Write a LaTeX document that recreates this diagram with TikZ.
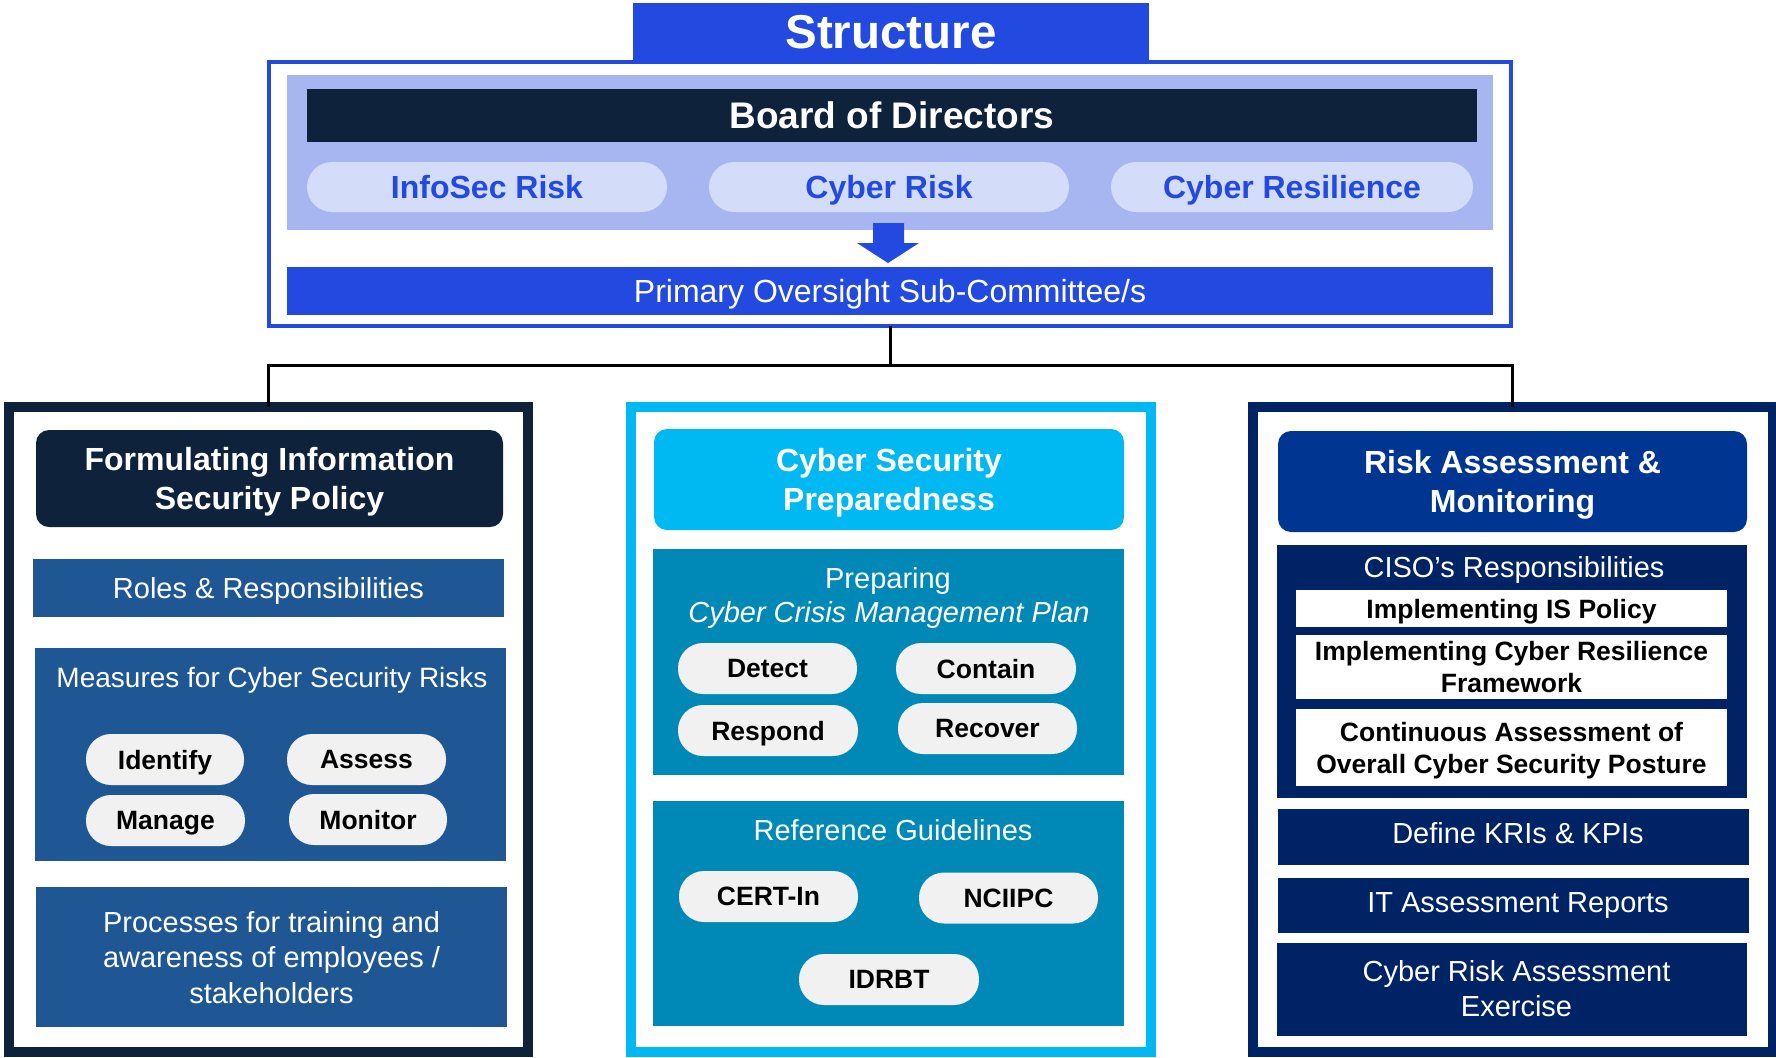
\documentclass[tikz,border=0pt]{standalone}
\usepackage{fontspec}
\setmainfont{Liberation Sans}
\definecolor{sblue}{RGB}{34,74,224}
\definecolor{lav}{RGB}{167,182,240}
\definecolor{lavpill}{RGB}{211,220,248}
\definecolor{navy}{RGB}{15,34,60}
\definecolor{lblue}{RGB}{31,87,149}
\definecolor{cyanA}{RGB}{0,185,242}
\definecolor{tealA}{RGB}{0,137,183}
\definecolor{rnavy}{RGB}{0,35,102}
\definecolor{rtitle}{RGB}{0,53,145}
\definecolor{pillgray}{RGB}{241,241,241}
\newcommand\fStruct{\fontsize{47.5}{56}\selectfont\bfseries}
\newcommand\fBoard{\fontsize{37}{44}\selectfont\bfseries}
\newcommand\fTopPill{\fontsize{32}{38}\selectfont\bfseries}
\newcommand\fBar{\fontsize{32}{38}\selectfont}
\newcommand\fHead{\fontsize{32}{39}\selectfont\bfseries}
\newcommand\fBody{\fontsize{29}{35}\selectfont}
\newcommand\fBodyP{\fontsize{29}{35.5}\selectfont}
\newcommand\fPill{\fontsize{26.5}{32}\selectfont\bfseries}
\newcommand\fWhite{\fontsize{26.5}{32}\selectfont\bfseries}
% zero-depth wrapper so that text is centred on its capitals
\newcommand\nd[1]{\raisebox{0pt}[\height][0pt]{#1}}
\begin{document}
\begin{tikzpicture}[x=1pt,y=-1pt,
  every node/.style={inner sep=0pt,outer sep=0pt,align=center,text=white},
  sz/.style 2 args={minimum width=#1pt,minimum height=#2pt},
  toppill/.style={fill=lavpill,rounded corners=25pt,sz={360}{50},font=\fTopPill,text=sblue},
  pill/.style={fill=pillgray,rounded corners=25pt,font=\fPill,text=black},
  secframe/.style={line width=10pt,sz={520}{645}},
  headbox/.style={rounded corners=13pt,font=\fHead},
  wbox/.style={fill=white,sz={431}{#1},font=\fWhite,text=black},
  conn/.style={line width=3pt,draw=black}]
\useasboundingbox (0,0) rectangle (1776,1057);
\fill[white] (0,0) rectangle (1776,1057);

% ---------- top structure ----------
\node[fill=sblue,sz={516}{57},font=\fStruct] (title) at (891,31.5) {\nd{Structure}};
\node[draw=sblue,line width=4pt,sz={1242}{264}] (frame) at (890,194) {};
\node[fill=lav,sz={1206}{155}] (panel) at (890,152.5) {};
\node[fill=navy,sz={1170}{53},font=\fBoard] (board) at (892,115.5) {\nd{Board of Directors}};
\node[toppill] (infosec) at (487,187) {\nd{InfoSec Risk}};
\node[toppill] (cyberrisk) at (889,187) {\nd{Cyber Risk}};
\node[toppill,minimum width=362pt] (cyberres) at (1292,187) {\nd{Cyber Resilience}};
\node[fill=sblue,sz={1206}{48},font=\fBar] (bar) at (890,291) {\nd{Primary Oversight Sub-Committee/s}};
\fill[sblue] (873,223) -- (904,223) -- (904,243) -- (919,243) -- (888,263) -- (857,243) -- (873,243) -- cycle;

% ---------- sections ----------
\node[draw=navy,secframe,minimum width=519pt] (lsec) at (268.5,729.5) {};
\node[draw=cyanA,secframe] (msec) at (890.5,729.5) {};
\node[draw=rnavy,secframe] (rsec) at (1512.5,729.5) {};

% connectors
\coordinate (hub) at (890,365);
\draw[conn] (frame.south) -- (hub);
\draw[conn] (hub) -| (lsec.north);
\draw[conn] (hub) -| (rsec.north);

% ---------- left ----------
\node[fill=navy,headbox,sz={467}{97}] (ltitle) at (269.5,478.5) {Formulating Information\\\nd{Security Policy}};
\node[fill=lblue,sz={471}{58},font=\fBody] (roles) at (268.5,588) {\nd{Roles \& Responsibilities}};
\node[fill=lblue,sz={471}{213}] (measures) at (270.5,754.5) {};
\node[font=\fontsize{28}{34}\selectfont] (mlabel) at (272,677) {\nd{Measures for Cyber Security Risks}};
\node[pill,sz={158}{51}] (identify) at (165,759.5) {\nd{Identify}};
\node[pill,sz={159}{51}] (assess) at (366.5,759.5) {\nd{Assess}};
\node[pill,sz={159}{51}] (manage) at (165.5,820.5) {\nd{Manage}};
\node[pill,sz={158}{51}] (monitor) at (368,819.5) {\nd{Monitor}};
\node[fill=lblue,sz={471}{140},font=\fBodyP] (proc) at (271.5,957) {Processes for training and\\awareness of employees /\\\nd{stakeholders}};

% ---------- middle ----------
\node[fill=cyanA,headbox,sz={470}{101}] (mtitle) at (889,479.5) {Cyber Security\\\nd{Preparedness}};
\node[fill=tealA,sz={471}{226}] (prep) at (888.5,662) {};
\node[font=\fBody] (preplabel) at (888,578) {\nd{Preparing}};
\node[font=\fBody\itshape] (ccmp) at (889,612) {\nd{Cyber Crisis Management Plan}};
\node[pill,sz={179}{51}] (detect) at (767.5,668.5) {\nd{Detect}};
\node[pill,sz={180}{51}] (contain) at (986,668.5) {\nd{Contain}};
\node[pill,sz={180}{51}] (respond) at (768,730.5) {\nd{Respond}};
\node[pill,sz={179}{51}] (recover) at (987.5,728.5) {\nd{Recover}};
\node[fill=tealA,sz={471}{225}] (refg) at (888.5,913.5) {};
\node[font=\fBody] (reflabel) at (893,830) {\nd{Reference Guidelines}};
\node[pill,sz={179}{51}] (certin) at (768.5,896.5) {\nd{CERT-In}};
\node[pill,sz={179}{51}] (nciipc) at (1008.5,898) {\nd{NCIIPC}};
\node[pill,sz={180}{51}] (idrbt) at (889,979.5) {\nd{IDRBT}};

% ---------- right ----------
\node[fill=rtitle,headbox,sz={469}{101}] (rtitlebox) at (1512.5,481.5) {Risk Assessment \&\\\nd{Monitoring}};
\node[fill=rnavy,sz={470}{253}] (ciso) at (1512,671.5) {};
\node[font=\fBody] (cisolabel) at (1514,567) {\nd{CISO’s Responsibilities}};
\node[wbox=37] (ispol) at (1511.5,608.5) {\nd{Implementing IS Policy}};
\node[wbox=64] (crf) at (1511.5,667) {Implementing Cyber Resilience\\\nd{Framework}};
\node[wbox=77] (cont) at (1511.5,747.5) {Continuous Assessment of\\\nd{Overall Cyber Security Posture}};
\node[fill=rnavy,sz={471}{56}] (kri) at (1513.5,837) {};
\node[font=\fBody] (kritext) at (1518,833) {\nd{Define KRIs \& KPIs}};
\node[fill=rnavy,sz={471}{55}] (itar) at (1513.5,905.5) {};
\node[font=\fBody] (itartext) at (1518,903) {\nd{IT Assessment Reports}};
\node[fill=rnavy,sz={470}{93}] (cra) at (1512,989.5) {};
\node[font=\fontsize{29}{35}\selectfont] (cratext) at (1516.5,988) {Cyber Risk Assessment\\\nd{Exercise}};
\end{tikzpicture}
\end{document}
